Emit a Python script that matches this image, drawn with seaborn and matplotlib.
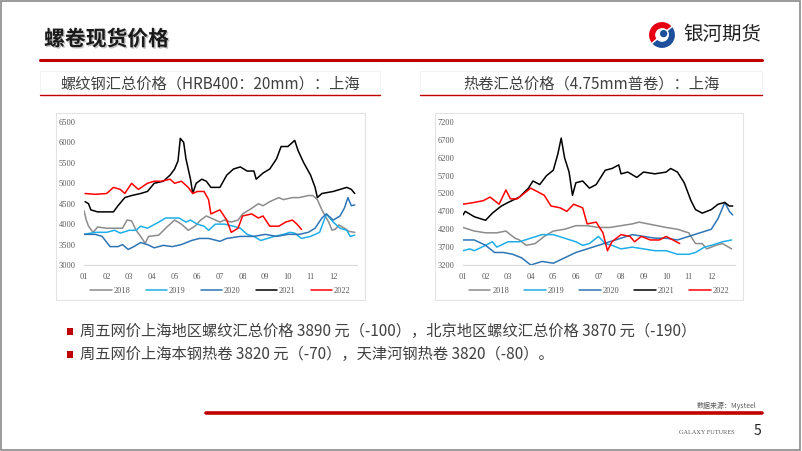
import pandas as pd
import matplotlib.pyplot as plt
import matplotlib.patches as mpatches
import matplotlib.patheffects as pe
import seaborn as sns

# 数据：x 为月份位置（1 = 1月初），y 为价格（元/吨）
REBAR_2018 = [(1.0, 4330), (1.1, 4100), (1.2, 3950), (1.4, 3800), (1.6, 3930), (2.0, 3900), (2.7, 3900),
              (2.9, 4100), (3.1, 4080), (3.3, 3850), (3.5, 3700), (3.7, 3530), (3.85, 3700), (4.3, 3730),
              (4.6, 3900), (5.0, 4100), (5.3, 4000), (5.6, 3850), (5.9, 3950), (6.15, 4100), (6.4, 4200),
              (6.6, 4150), (7.0, 4050), (7.2, 4100), (7.5, 4050), (7.8, 4100), (8.0, 4250), (8.3, 4350),
              (8.7, 4500), (8.9, 4450), (9.2, 4550), (9.6, 4650), (9.8, 4600), (10.2, 4650), (10.5, 4650),
              (10.9, 4700), (11.1, 4700), (11.3, 4600), (11.5, 4350), (11.8, 4050), (11.95, 3850),
              (12.1, 3880), (12.25, 3980), (12.5, 3900), (12.7, 3820), (12.95, 3800)]
REBAR_2019 = [(1.0, 3750), (1.5, 3800), (2.0, 3800), (2.35, 3850), (2.6, 3780), (3.0, 3850), (3.3, 3850),
              (3.5, 3950), (3.8, 3900), (4.3, 4050), (4.6, 4150), (5.0, 4150), (5.2, 4150), (5.5, 4050),
              (5.7, 4100), (6.0, 4000), (6.3, 3950), (6.5, 3850), (6.8, 4000), (7.2, 4000), (7.6, 3950),
              (7.9, 3900), (8.2, 3750), (8.5, 3700), (8.8, 3600), (9.1, 3650), (9.4, 3700), (9.8, 3750),
              (10.1, 3800), (10.3, 3780), (10.6, 3650), (11.0, 3700), (11.4, 3800), (11.7, 4250),
              (12.0, 4050), (12.3, 3900), (12.6, 3850), (12.75, 3700), (12.95, 3730)]
REBAR_2020 = [(1.0, 3750), (1.5, 3750), (1.8, 3700), (2.15, 3450), (2.5, 3450), (2.7, 3500), (2.95, 3380),
              (3.2, 3450), (3.5, 3550), (3.8, 3500), (4.1, 3420), (4.5, 3480), (4.9, 3450), (5.3, 3500),
              (5.75, 3600), (6.1, 3650), (6.5, 3650), (7.0, 3580), (7.3, 3650), (7.9, 3700), (8.5, 3700),
              (9.0, 3750), (9.5, 3700), (10.0, 3750), (10.5, 3750), (10.9, 3800), (11.2, 3900),
              (11.5, 4150), (11.7, 4250), (12.0, 4100), (12.3, 4200), (12.5, 4400), (12.65, 4650),
              (12.8, 4450), (12.95, 4470)]
REBAR_2021 = [(1.05, 4550), (1.2, 4500), (1.3, 4350), (1.6, 4300), (2.3, 4300), (2.5, 4450), (2.8, 4650),
              (3.1, 4700), (3.5, 4750), (3.8, 4800), (4.1, 5000), (4.5, 5050), (4.8, 5200), (5.0, 5350),
              (5.15, 5550), (5.25, 6100), (5.4, 6000), (5.5, 5600), (5.7, 5100), (5.8, 4750), (5.95, 5000),
              (6.2, 5100), (6.4, 5050), (6.6, 4900), (7.0, 4900), (7.3, 5200), (7.6, 5350), (7.9, 5400),
              (8.2, 5300), (8.5, 5300), (8.6, 5100), (8.9, 5250), (9.2, 5350), (9.5, 5600), (9.7, 5900),
              (10.0, 5900), (10.3, 6050), (10.45, 5800), (10.7, 5500), (11.0, 5200), (11.2, 4900),
              (11.3, 4650), (11.5, 4750), (12.0, 4800), (12.3, 4850), (12.6, 4900), (12.8, 4850),
              (12.95, 4750)]
REBAR_2022 = [(1.05, 4750), (1.5, 4730), (2.0, 4750), (2.3, 4900), (2.6, 4850), (2.8, 4750), (3.1, 5000),
              (3.4, 4850), (3.8, 5000), (4.1, 5050), (4.4, 5050), (4.8, 5100), (5.0, 5000), (5.3, 5050),
              (5.6, 4900), (5.8, 4750), (6.0, 4800), (6.3, 4800), (6.5, 4600), (6.6, 4250), (7.0, 4350),
              (7.3, 4100), (7.5, 3800), (7.8, 3900), (8.0, 4200), (8.4, 4250), (8.7, 4150), (8.9, 4200),
              (9.2, 3950), (9.6, 3950), (9.9, 4050), (10.2, 4100), (10.4, 4000), (10.6, 3870)]

HRC_2018 = [(1.0, 4250), (1.5, 4150), (2.0, 4100), (2.5, 4100), (2.9, 4150), (3.3, 3950), (3.5, 3900),
            (3.8, 3750), (4.2, 3800), (4.6, 4000), (5.0, 4150), (5.5, 4200), (6.0, 4300), (6.5, 4300),
            (7.0, 4250), (7.5, 4250), (8.0, 4300), (8.5, 4350), (8.8, 4400), (9.2, 4350), (9.6, 4300),
            (10.0, 4250), (10.5, 4200), (11.0, 4100), (11.3, 3800), (11.6, 3800), (11.8, 3650),
            (12.2, 3750), (12.5, 3800), (12.9, 3650)]
HRC_2019 = [(1.0, 3600), (1.3, 3650), (1.5, 3600), (2.0, 3750), (2.3, 3850), (2.5, 3700), (3.0, 3850),
            (3.5, 3850), (4.0, 3950), (4.5, 4050), (5.0, 4050), (5.5, 3950), (6.0, 3850), (6.3, 3750),
            (6.6, 3800), (7.0, 4000), (7.3, 3800), (7.6, 3750), (8.0, 3650), (8.5, 3700), (9.0, 3650),
            (9.5, 3600), (10.0, 3600), (10.5, 3500), (11.0, 3500), (11.3, 3550), (11.7, 3700),
            (12.0, 3750), (12.5, 3850), (12.9, 3900)]
HRC_2020 = [(1.0, 3900), (1.5, 3900), (2.0, 3750), (2.4, 3550), (2.8, 3550), (3.2, 3500), (3.6, 3400),
            (4.0, 3200), (4.5, 3300), (5.0, 3250), (5.5, 3400), (6.0, 3550), (6.5, 3650), (7.0, 3750),
            (7.5, 3850), (8.0, 3950), (8.5, 4050), (9.0, 4000), (9.5, 3950), (10.0, 3950), (10.5, 3900),
            (11.0, 4000), (11.5, 4100), (12.0, 4200), (12.3, 4500), (12.6, 4950), (12.8, 4700),
            (12.95, 4600)]
HRC_2021 = [(1.0, 4600), (1.1, 4700), (1.5, 4550), (2.0, 4450), (2.3, 4650), (2.7, 4850), (3.0, 4950),
            (3.5, 5100), (3.9, 5350), (4.1, 5550), (4.4, 5450), (4.7, 5700), (5.0, 5850), (5.2, 6300),
            (5.35, 6750), (5.5, 6200), (5.7, 5800), (5.85, 5150), (6.0, 5500), (6.3, 5550), (6.6, 5350),
            (6.9, 5450), (7.3, 5850), (7.6, 5900), (7.9, 6000), (8.0, 5750), (8.3, 5800), (8.7, 5650),
            (9.0, 5800), (9.5, 5750), (10.0, 5800), (10.2, 5900), (10.5, 5800), (10.8, 5500),
            (11.1, 5000), (11.3, 4750), (11.6, 4650), (12.0, 4750), (12.3, 4900), (12.6, 4950),
            (12.8, 4850), (12.95, 4850)]
HRC_2022 = [(1.0, 4900), (1.5, 4950), (1.9, 5000), (2.2, 5100), (2.6, 4900), (2.9, 5300), (3.1, 5050),
            (3.4, 5050), (3.7, 5200), (4.0, 5350), (4.3, 5250), (4.6, 5150), (4.9, 4850), (5.3, 4800),
            (5.6, 4700), (5.9, 4900), (6.3, 4800), (6.5, 4350), (6.9, 4400), (7.2, 4100), (7.4, 3600),
            (7.6, 3850), (8.0, 4050), (8.4, 4000), (8.6, 3850), (8.9, 4000), (9.3, 3900), (9.7, 3900),
            (10.0, 4000), (10.3, 3900), (10.6, 3800)]

YEARS = ["2018", "2019", "2020", "2021", "2022"]
MONTH_LABELS = ["01", "02", "03", "04", "05", "06", "07", "08", "09", "10", "11", "12"]
COLORS = {"2018": "#8c8c8c", "2019": "#1eaee8", "2020": "#2e75b6", "2021": "#000000", "2022": "#ff0000"}

SUB_LEFT = "螺纹钢汇总价格（HRB400：20mm）：上海"
SUB_RIGHT = "热卷汇总价格（4.75mm普卷）：上海"
BULLETS = ["周五网价上海地区螺纹汇总价格 3890 元（-100），北京地区螺纹汇总价格 3870 元（-190）",
           "周五网价上海本钢热卷 3820 元（-70），天津河钢热卷 3820（-80）。"]

sns.set_theme(style="white")
plt.rcParams["font.family"] = ["Noto Sans CJK SC", "DejaVu Sans"]
CJK = ["Noto Sans CJK SC", "DejaVu Sans"]
SERIF = "Liberation Serif"

W, H = 802, 451


def to_df(series):
    rows = []
    for year, pts in zip(YEARS, series):
        for x, y in pts:
            rows.append({"month": x, "price": y, "year": year})
    return pd.DataFrame(rows)


def fx(px): return px / W
def fy(py): return 1 - py / H


fig = plt.figure(figsize=(8.02, 4.51), dpi=100)
fig.patch.set_facecolor("white")

# 外边框
fig.add_artist(mpatches.Rectangle((0.001, 0.002), 0.997, 0.995, transform=fig.transFigure,
                                  fill=False, edgecolor="#8a8a8a", linewidth=1.2))

# 标题与顶部红线
fig.text(fx(44), fy(39), "螺卷现货价格", fontsize=15, fontweight="bold", color="#1a1a1a",
         va="center", family=CJK,
         path_effects=[pe.withSimplePatchShadow(offset=(1, -1), shadow_rgbFace="#999999", alpha=0.6)])
fig.add_artist(plt.Line2D([fx(40), fx(762)], [fy(60), fy(60)], transform=fig.transFigure,
                          color="#c00000", linewidth=2.2))

# logo
lax = fig.add_axes([fx(647), fy(50), fx(30), 30 / H])
lax.set_xlim(-1.1, 1.1); lax.set_ylim(-1.1, 1.1); lax.set_aspect("equal"); lax.axis("off")
lax.add_patch(mpatches.Wedge((0, 0), 1.0, 40, 220, width=0.55, facecolor="#e60012"))
lax.add_patch(mpatches.Wedge((0, 0), 1.0, 220, 400, width=0.55, facecolor="#1d4f9c"))
lax.add_patch(mpatches.Circle((0.12, 0.1), 0.32, facecolor="#1d4f9c"))
fig.text(fx(683), fy(35), "银河期货", fontsize=14, color="#222222", va="center", family=CJK)

# 小标题框
for x0, x1, txt in [(40, 380, SUB_LEFT), (420, 762, SUB_RIGHT)]:
    fig.add_artist(mpatches.Rectangle((fx(x0), fy(95)), fx(x1 - x0), 24 / H, transform=fig.transFigure,
                                      facecolor="white", edgecolor="#f3f3f3", linewidth=0.8))
    fig.add_artist(plt.Line2D([fx(x0), fx(x1)], [fy(95), fy(95)], transform=fig.transFigure,
                              color="#c00000", linewidth=1.0))
    fig.text(fx((x0 + x1) / 2), fy(84), txt, fontsize=11, color="#404040",
             ha="center", va="center", family=CJK)

# 图表外框
for x0, x1 in [(56, 365), (435, 743)]:
    fig.add_artist(mpatches.Rectangle((fx(x0), fy(300)), fx(x1 - x0), 187 / H, transform=fig.transFigure,
                                      fill=False, edgecolor="#e3e3e3", linewidth=0.8))


def draw(ax, series, ylim, yticks):
    df = to_df(series)
    sns.lineplot(data=df, x="month", y="price", hue="year", palette=COLORS, ax=ax,
                 linewidth=1.1, legend=False, sort=True, estimator=None)
    ax.set_xlim(1, 13.05)
    ax.set_ylim(*ylim)
    ax.set_xticks(range(1, 13))
    ax.set_xticklabels(MONTH_LABELS)
    ax.set_yticks(yticks)
    ax.set_xlabel(""); ax.set_ylabel("")
    for s in ["top", "right", "left"]:
        ax.spines[s].set_visible(False)
    ax.spines["bottom"].set_color("#d9d9d9")
    ax.spines["bottom"].set_linewidth(0.8)
    ax.tick_params(axis="both", length=0, labelsize=6, labelcolor="#595959", pad=6)
    for lab in ax.get_xticklabels() + ax.get_yticklabels():
        lab.set_family(SERIF)
    handles = [plt.Line2D([], [], color=COLORS[y], linewidth=1.1) for y in YEARS]
    leg = ax.legend(handles, YEARS, loc="upper center", bbox_to_anchor=(0.5, -0.1), ncol=5,
                    frameon=False, handlelength=2.6, columnspacing=1.8, handletextpad=0.2,
                    prop={"family": SERIF, "size": 6})
    for t in leg.get_texts():
        t.set_color("#595959")


axl = fig.add_axes([fx(84), fy(265), fx(273), 143 / H])
draw(axl, [REBAR_2018, REBAR_2019, REBAR_2020, REBAR_2021, REBAR_2022], (3000, 6500),
     range(3000, 6501, 500))
axr = fig.add_axes([fx(463), fy(265), fx(272), 143 / H])
draw(axr, [HRC_2018, HRC_2019, HRC_2020, HRC_2021, HRC_2022], (3200, 7200),
     range(3200, 7201, 500))

# 要点
for i, txt in enumerate(BULLETS):
    yy = fy(331 + i * 23)
    fig.add_artist(mpatches.Rectangle((fx(67), yy - 3.5 / H), fx(6), 7 / H, transform=fig.transFigure,
                                      facecolor="#c00000", edgecolor="none"))
    fig.text(fx(80), yy, txt, fontsize=11, color="#404040", va="center", family=CJK)

# 页脚
fig.text(fx(756), fy(406), "数据来源：Mysteel", fontsize=5, color="#595959", ha="right", va="center",
         family=CJK)
fig.add_artist(plt.Line2D([fx(206), fx(762)], [fy(413), fy(413)], transform=fig.transFigure,
                          color="#c00000", linewidth=2.6))
fig.text(fx(735), fy(432), "GALAXY FUTURES", fontsize=4.5, color="#595959", ha="right", va="center",
         family=SERIF)
fig.text(fx(757), fy(431), "5", fontsize=10, color="#222222", ha="center", va="center", family=CJK)

plt.savefig("out.png", dpi=100)
